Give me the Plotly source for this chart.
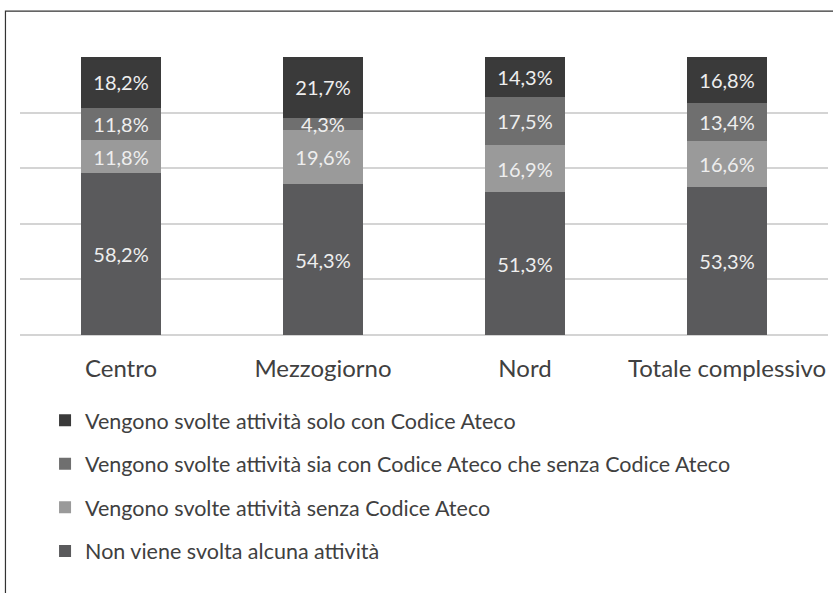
import plotly.graph_objects as go

categories = ["Centro", "Mezzogiorno", "Nord", "Totale complessivo"]
series_names = [
    "Non viene svolta alcuna attività",
    "Vengono svolte attività senza Codice Ateco",
    "Vengono svolte attività sia con Codice Ateco che senza Codice Ateco",
    "Vengono svolte attività solo con Codice Ateco",
]
non_viene = [58.2, 54.3, 51.3, 53.3]
senza_ateco = [11.8, 19.6, 16.9, 16.6]
sia_con_che_senza = [11.8, 4.3, 17.5, 13.4]
solo_con_ateco = [18.2, 21.7, 14.3, 16.8]
colors = ["#5a5a5c", "#9a9a9a", "#6f6f6f", "#3a3a3a"]

FONT = "Lato"

def fmt(v):
    return f"{v:.1f}".replace(".", ",") + "%"

fig = go.Figure()
all_vals = [non_viene, senza_ateco, sia_con_che_senza, solo_con_ateco]
for i, (name, vals, col) in enumerate(zip(series_names, all_vals, colors)):
    fig.add_trace(go.Bar(
        x=categories, y=vals, name=name, legendgroup=name,
        legendrank=1000 - i,
        marker=dict(color=col, line=dict(width=0)),
        text=[fmt(v) for v in vals], textposition="inside",
        insidetextanchor="middle",
        textfont=dict(family=FONT, size=20, color="#eeeeee"),
        width=0.4,
        hoverinfo="skip",
    ))

fig.update_layout(
    barmode="stack",
    width=833, height=593,
    margin=dict(l=20, r=5, t=57, b=258, autoexpand=False),
    paper_bgcolor="white", plot_bgcolor="white",
    font=dict(family=FONT, color="#404040"),
    uniformtext=dict(minsize=20, mode="show"),
    showlegend=True,
    legend=dict(
        x=0.031, xanchor="left", y=-0.233, yanchor="top",
        traceorder="grouped", tracegroupgap=12.6,
        font=dict(family=FONT, size=21.5, color="#404040"),
        itemclick=False,
    ),
    xaxis=dict(showgrid=False, showline=False, ticks="", ticklabelstandoff=17,
               tickfont=dict(family=FONT, size=24, color="#404040")),
    yaxis=dict(range=[0, 100], dtick=20, showticklabels=False,
               gridcolor="#d4d4d4", gridwidth=1.5,
               zeroline=True, zerolinecolor="#d4d4d4", zerolinewidth=1.5),
    shapes=[dict(type="rect", xref="paper", yref="paper",
                 x0=-0.018, x1=1.1, y0=-1.1, y1=1.165,
                 line=dict(color="#333333", width=1.2), layer="below")],
)

fig.write_html("out.html", config={"displayModeBar": False},
               post_script="document.body.style.margin='0';")
